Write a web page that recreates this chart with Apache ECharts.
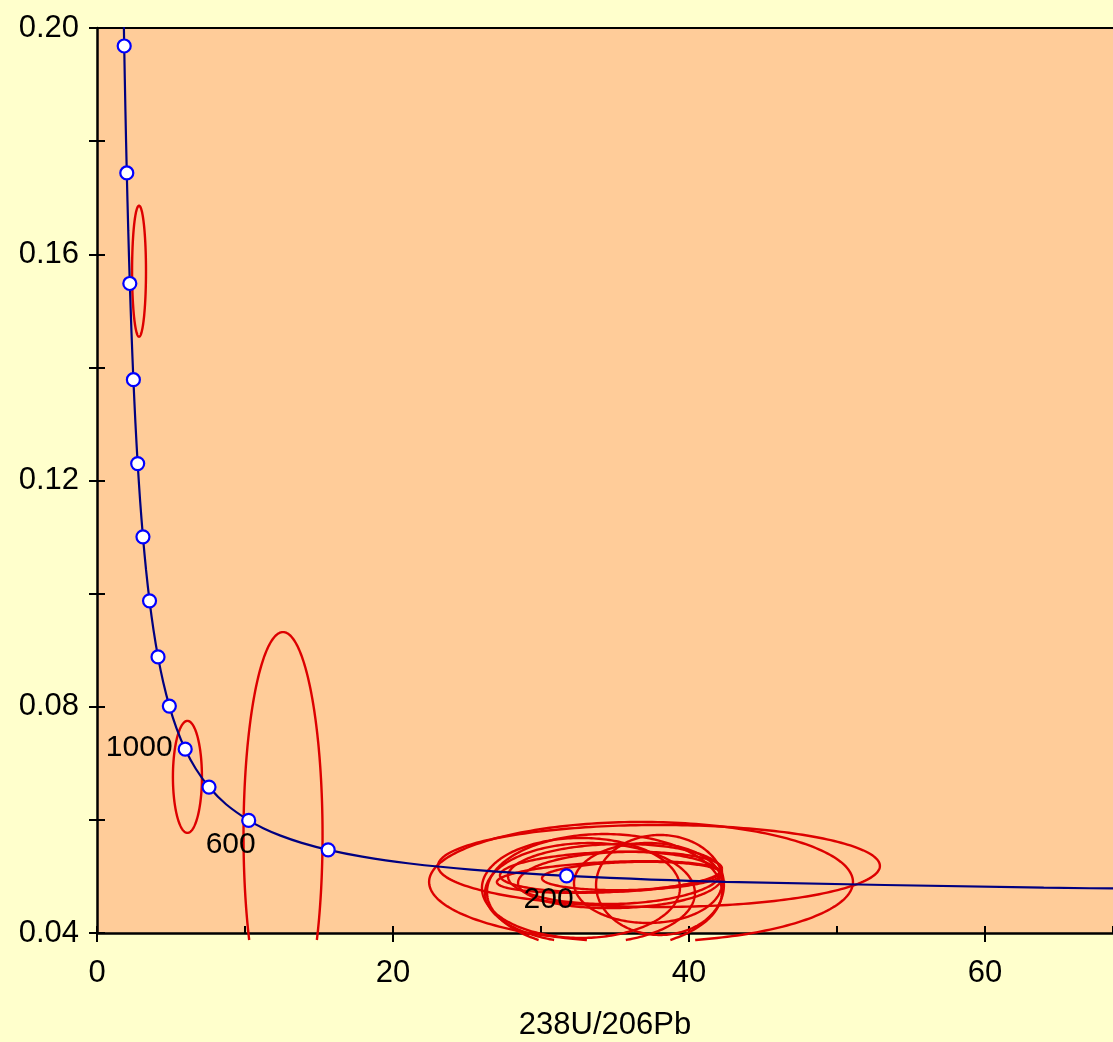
<!DOCTYPE html>
<html>
<head>
<meta charset="utf-8">
<title>Concordia 238U/206Pb</title>
<script src="https://cdn.jsdelivr.net/npm/echarts@6/dist/echarts.min.js"></script>
<style>
  html, body { margin: 0; padding: 0; background: #FFFFCC; overflow: hidden; }
  #chart { width: 1113px; height: 1042px; }
</style>
</head>
<body>
<div id="chart"></div>
<script>
// Concordia curve vertices (238U/206Pb, 207Pb/206Pb)
const curveX = [71.13, 63.97, 42.48, 31.73, 25.29, 20.99, 17.92, 15.62, 13.83, 12.40, 11.23, 10.25, 8.718, 7.568, 6.674, 5.959, 5.375, 4.888, 4.476, 4.123, 3.817, 3.550, 3.314, 3.105, 2.917, 2.749, 2.597, 2.459, 2.333, 2.217, 2.111, 2.013, 1.922, 1.838, 1.799];
const curveY = [0.04781, 0.04802, 0.04905, 0.05011, 0.05120, 0.05233, 0.05350, 0.05470, 0.05594, 0.05722, 0.05854, 0.05990, 0.06276, 0.06580, 0.06904, 0.07250, 0.07619, 0.08012, 0.08432, 0.08881, 0.09360, 0.09872, 0.10419, 0.11004, 0.11629, 0.12299, 0.13015, 0.13782, 0.14604, 0.15483, 0.16426, 0.17437, 0.18520, 0.19682, 0.20294];

// Age markers on the curve (Ma)
const markerAge = [200, 400, 600, 800, 1000, 1200, 1400, 1600, 1800, 2000, 2200, 2400, 2600, 2800];
const markerX = [31.73, 15.62, 10.25, 7.568, 5.959, 4.888, 4.123, 3.550, 3.105, 2.749, 2.459, 2.217, 2.013, 1.838];
const markerY = [0.05011, 0.05470, 0.05990, 0.06580, 0.07250, 0.08012, 0.08881, 0.09872, 0.11004, 0.12299, 0.13782, 0.15483, 0.17437, 0.19682];
const labelledAges = [200, 600, 1000];

// Error ellipses: centre, half-widths, and y-shift of the right-hand end
const ellipseX = [2.84, 6.11, 12.57, 37.97, 36.76, 32.70, 34.29, 38.04, 34.59, 34.73, 35.34, 36.15, 37.23, 33.31, 35.00];
const ellipseY = [0.1570, 0.0676, 0.0573, 0.05185, 0.04902, 0.04796, 0.04725, 0.04849, 0.04990, 0.05079, 0.04937, 0.05008, 0.04884, 0.04707, 0.05043];
const ellipseSX = [0.47, 0.98, 2.67, 14.93, 14.32, 6.69, 7.94, 4.32, 7.57, 7.50, 6.89, 6.08, 5.00, 7.09, 7.23];
const ellipseSY = [0.01158, 0.00990, 0.0359, 0.00725, 0.01061, 0.00884, 0.01025, 0.00884, 0.00265, 0.00354, 0.00495, 0.00248, 0.00707, 0.00884, 0.00530];
const ellipseTilt = [0, 0, 0, 0, 0, 0, 0, 0, 0.0009, 0.0006, 0.0005, 0.0004, 0, 0, 0.0004];

// Axis ranges and ticks
const xMin = 0, xMax = 68.65, xMajor = 20, xMinor = 10;
const yMin = 0.04, yMax = 0.20, yStep = 0.02, yLabelStep = 0.04;
const xName = '238U/206Pb';

const FONT = '"Liberation Sans", Arial, Helvetica, sans-serif';
const curveData = curveX.map((x, i) => [x, curveY[i]]);
const markerData = markerX.map((x, i) => [x, markerY[i], markerAge[i]]);
const ageLabelData = labelledAges.map(a => {
  const i = markerAge.indexOf(a);
  return [markerX[i], markerY[i], a];
});
const ellipseData = ellipseX.map((x, i) => [x, ellipseY[i], ellipseSX[i], ellipseSY[i], ellipseTilt[i]]);

const labelOffset = { 200: [-18, 24], 600: [-18, 24], 1000: [-46, -1] };

function crossAt(p, q, yLim) {
  const t = (yLim - p[1]) / (q[1] - p[1]);
  return [p[0] + (q[0] - p[0]) * t, yLim];
}

function renderEllipse(params, api) {
  const cx = api.value(0), cy = api.value(1), sx = api.value(2), sy = api.value(3), tilt = api.value(4);
  const cs = params.coordSys;
  const yLimit = cs.y + cs.height + 7;
  const N = 240;
  const pts = [];
  for (let i = 0; i < N; i++) {
    const th = (i / N) * Math.PI * 2;
    const c = Math.cos(th), s = Math.sin(th);
    pts.push(api.coord([cx + sx * c, cy + sy * s + tilt * c]));
  }
  const style = { fill: null, stroke: '#DD0000', lineWidth: 2.4 };
  const inside = pts.map(p => p[1] <= yLimit);
  const start = inside.indexOf(false);
  const children = [];
  if (start < 0) {
    children.push({ type: 'polyline', shape: { points: pts.concat([pts[0]]) }, style });
  } else {
    let run = [];
    for (let k = 1; k <= N; k++) {
      const i = (start + k) % N, prev = (start + k - 1) % N;
      if (inside[i]) {
        if (!inside[prev]) run.push(crossAt(pts[prev], pts[i], yLimit));
        run.push(pts[i]);
      } else if (run.length) {
        run.push(crossAt(pts[prev], pts[i], yLimit));
        children.push({ type: 'polyline', shape: { points: run }, style });
        run = [];
      }
    }
    if (run.length) children.push({ type: 'polyline', shape: { points: run }, style });
  }
  return { type: 'group', children };
}

const chart = echarts.init(document.getElementById('chart'), null, { renderer: 'canvas', width: 1113, height: 1042 });
chart.setOption({
  animation: false,
  backgroundColor: '#FFFFCC',
  grid: {
    left: 97, top: 28, width: 1016, height: 905,
    outerBoundsMode: 'none', containLabel: false,
    show: true, backgroundColor: '#FFCC99', borderWidth: 0
  },
  xAxis: [
    {
      type: 'value', position: 'bottom', min: xMin, max: xMax, interval: xMajor,
      name: xName, nameLocation: 'middle', nameGap: 77,
      nameTextStyle: { fontFamily: FONT, fontSize: 31, color: '#000' },
      axisLine: { show: true, onZero: false, lineStyle: { color: '#000', width: 2.5 } },
      axisTick: { show: true, inside: false, length: 9, lineStyle: { color: '#000', width: 2 } },
      axisLabel: { fontFamily: FONT, fontSize: 31, color: '#000', margin: 25,
        showMaxLabel: false,
        formatter: v => (Math.abs(v % xMajor) < 1e-9 ? String(v) : '') },
      splitLine: { show: false }
    },
    {
      type: 'value', position: 'bottom', min: xMin, max: xMax, interval: xMinor,
      axisLine: { show: false },
      axisTick: { show: true, inside: true, length: 7, lineStyle: { color: '#000', width: 2 } },
      axisLabel: { show: false }, splitLine: { show: false }
    },
    {
      type: 'value', position: 'top', min: xMin, max: xMax,
      axisLine: { show: true, onZero: false, lineStyle: { color: '#000', width: 2 } },
      axisTick: { show: false }, axisLabel: { show: false }, splitLine: { show: false }
    }
  ],
  yAxis: [
    {
      type: 'value', position: 'left', min: yMin, max: yMax, interval: yStep,
      axisLine: { show: true, onZero: false, lineStyle: { color: '#000', width: 2.5 } },
      axisTick: { show: true, inside: false, length: 8, lineStyle: { color: '#000', width: 2 } },
      axisLabel: {
        fontFamily: FONT, fontSize: 31, color: '#000', margin: 18,
        formatter: v => (Math.round(v * 100) % Math.round(yLabelStep * 100) === 0 ? v.toFixed(2) : '')
      },
      splitLine: { show: false }
    },
    {
      type: 'value', position: 'left', min: yMin, max: yMax, interval: yStep,
      axisLine: { show: false },
      axisTick: { show: true, inside: true, length: 8, lineStyle: { color: '#000', width: 2 } },
      axisLabel: { show: false }, splitLine: { show: false }
    }
  ],
  series: [
    {
      type: 'custom', name: 'ellipses', xAxisIndex: 0, yAxisIndex: 0,
      renderItem: renderEllipse, data: ellipseData,
      encode: { x: 0, y: 1 }, z: 3, silent: true
    },
    {
      type: 'line', name: 'concordia', xAxisIndex: 0, yAxisIndex: 0,
      data: curveData, smooth: 0.3, showSymbol: false,
      lineStyle: { color: '#000080', width: 2.2 }, z: 4, silent: true
    },
    {
      type: 'scatter', name: 'ages', xAxisIndex: 0, yAxisIndex: 0,
      data: markerData, symbol: 'circle', symbolSize: 13,
      itemStyle: { color: '#FFFFFF', borderColor: '#0000FF', borderWidth: 2.2, opacity: 1 },
      z: 5, silent: true
    },
    {
      type: 'scatter', name: 'age labels', xAxisIndex: 0, yAxisIndex: 0,
      data: ageLabelData.map(d => ({
        value: d,
        label: { offset: labelOffset[d[2]] }
      })),
      symbolSize: 0,
      itemStyle: { opacity: 1, color: '#000' },
      label: {
        show: true, position: 'inside', align: 'center', verticalAlign: 'middle',
        fontFamily: FONT, fontSize: 30, color: '#000', opacity: 1,
        textBorderWidth: 0,
        formatter: p => String(p.value[2])
      },
      z: 6, silent: true
    }
  ]
});
</script>
</body>
</html>
